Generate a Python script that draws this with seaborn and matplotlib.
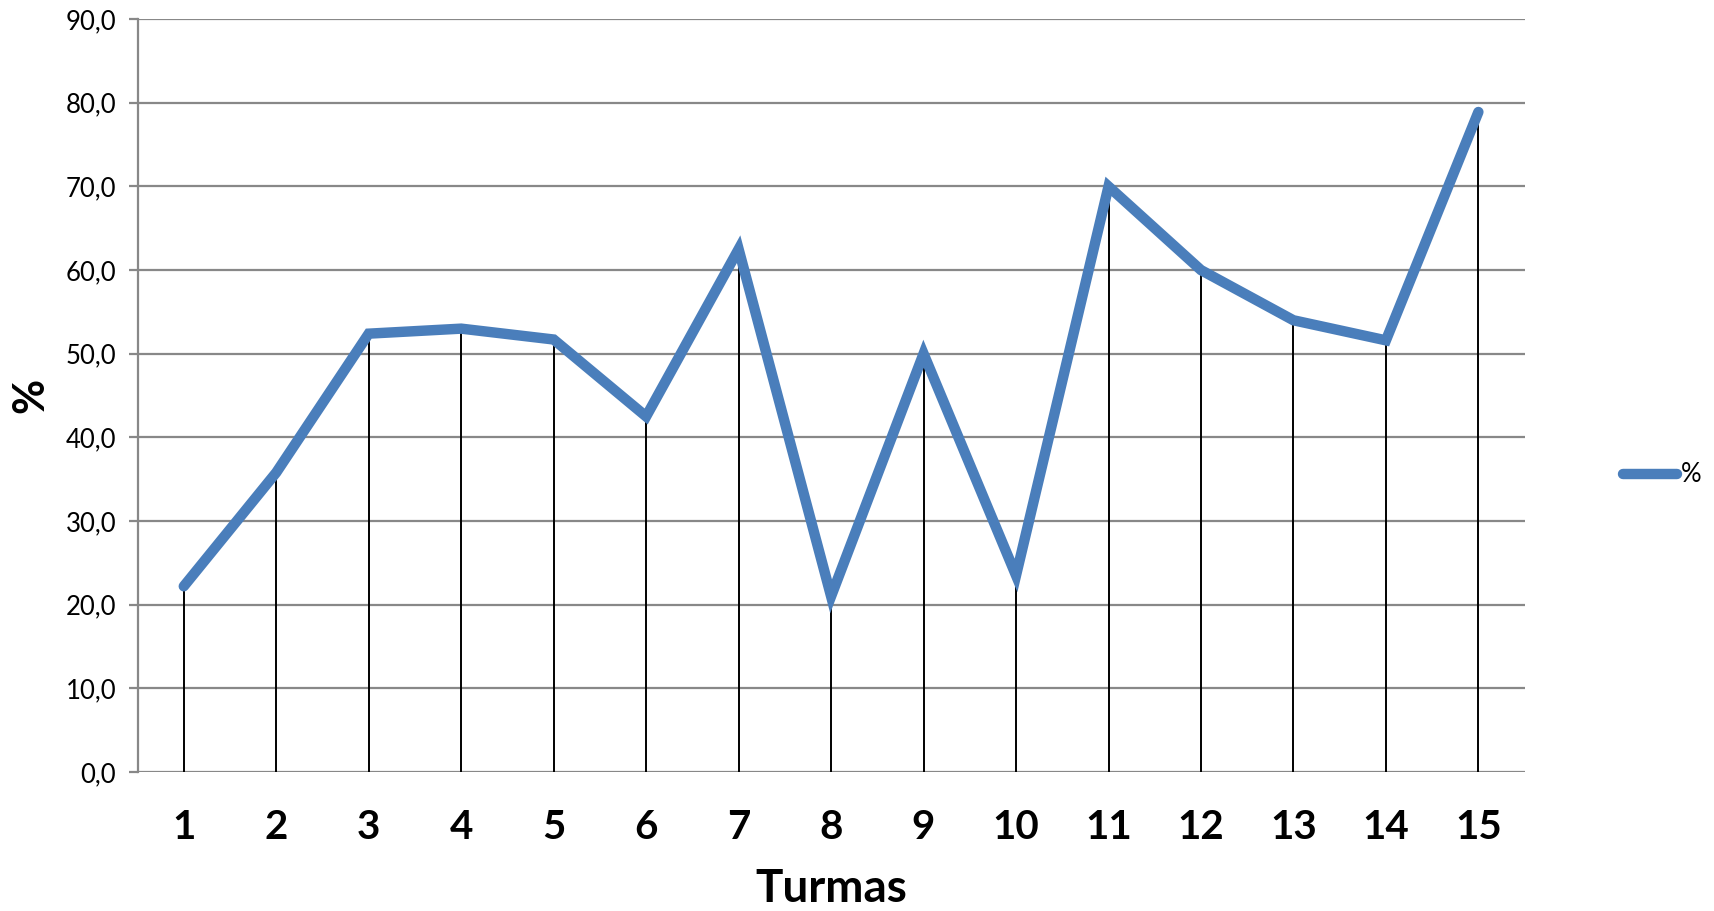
import matplotlib
matplotlib.use("Agg")
import matplotlib.pyplot as plt
import seaborn as sns
import pandas as pd
from matplotlib.ticker import FuncFormatter, MultipleLocator

turmas = [1, 2, 3, 4, 5, 6, 7, 8, 9, 10, 11, 12, 13, 14, 15]
percent = [22.2, 35.8, 52.4, 53.0, 51.7, 42.5, 62.5, 21.0, 50.0, 23.5, 70.0, 60.0, 54.0, 51.6, 78.9]
series_label = "%"
x_title = "Turmas"
y_title = "%"

sns.set_theme(style="white")
plt.rcParams['font.family'] = ['Lato', 'DejaVu Sans']
plt.rcParams['text.color'] = 'black'
plt.rcParams['axes.labelcolor'] = 'black'
plt.rcParams['xtick.color'] = 'black'
plt.rcParams['ytick.color'] = 'black'

df = pd.DataFrame({"Turmas": turmas, "pct": percent})

fig = plt.figure(figsize=(17.15, 9.11), dpi=100)
ax = fig.add_axes([0.0802, 0.1526, 0.889 - 0.0802, 0.979 - 0.1526])

grid_c = "#888888"
ax.set_ylim(0, 90)
ax.set_xlim(0.5, 15.5)
ax.yaxis.set_major_locator(MultipleLocator(10))
ax.grid(axis="y", color=grid_c, linewidth=1.6, zorder=0)
ax.grid(axis="x", visible=False)

# drop lines
ax.vlines(df["Turmas"], 0, df["pct"], color="black", linewidth=1.4, zorder=2)

sns.lineplot(data=df, x="Turmas", y="pct", ax=ax, color="#4A7EBB",
             linewidth=7.5, solid_capstyle="round", solid_joinstyle="miter",
             label=series_label, zorder=3, legend=False)

for s in ["top", "right", "bottom"]:
    ax.spines[s].set_visible(False)
ax.spines["left"].set_color(grid_c)
ax.spines["left"].set_linewidth(1.6)

ax.set_xticks(turmas)
ax.set_xticklabels([str(t) for t in turmas], fontsize=29, fontweight="bold")
ax.tick_params(axis="x", length=0, pad=27, labelcolor="black")
ax.tick_params(axis="y", length=6.5, width=1.6, color=grid_c, labelcolor="black",
               labelsize=18.5, pad=9, left=True)
ax.yaxis.set_major_formatter(FuncFormatter(lambda v, p: f"{v:.1f}".replace(".", ",")))

ax.set_xlabel(x_title, fontsize=33, fontweight="bold", va="center", ha="center", color="black")
ax.xaxis.set_label_coords(0.5, -0.156)
ax.set_ylabel(y_title, fontsize=31, fontweight="bold", va="center", ha="center", color="black")
ax.yaxis.set_label_coords(-0.077, 0.5)

h, l = ax.get_legend_handles_labels()
fig.legend(h, l, loc="center left", bbox_to_anchor=(1623 / 1715, 1 - 475 / 911),
           frameon=False, fontsize=18.5, handlelength=2.1, handletextpad=0.15,
           borderpad=0, borderaxespad=0, labelcolor="black")

fig.savefig("out.png", dpi=100)
